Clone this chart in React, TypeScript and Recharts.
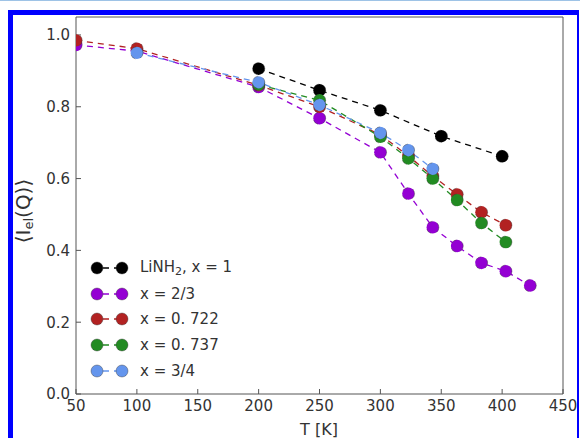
import { LineChart, Line, XAxis, YAxis } from "recharts";

// temperatures (K) and <I_el(Q)> per sample
const tBlack = [200, 250, 300, 350, 400];
const vBlack = [0.906, 0.846, 0.79, 0.718, 0.662];

const tPurple = [50, 100, 200, 250, 300, 323, 343, 363, 383, 403, 423];
const vPurple = [0.972, 0.955, 0.855, 0.768, 0.673, 0.558, 0.464, 0.412, 0.365, 0.342, 0.302];

const tRed = [50, 100, 200, 250, 300, 323, 343, 363, 383, 403];
const vRed = [0.985, 0.962, 0.86, 0.8, 0.722, 0.663, 0.607, 0.556, 0.506, 0.47];

const tGreen = [200, 250, 300, 323, 343, 363, 383, 403];
const vGreen = [0.862, 0.818, 0.716, 0.656, 0.6, 0.54, 0.476, 0.423];

const tBlue = [100, 200, 250, 300, 323, 343];
const vBlue = [0.95, 0.868, 0.805, 0.727, 0.679, 0.627];

const xTicks = [50, 100, 150, 200, 250, 300, 350, 400, 450];
const yTicks = [0, 0.2, 0.4, 0.6, 0.8, 1.0];

const zip = (t: number[], v: number[]) => t.map((x, i) => ({ t: x, v: v[i] }));

const series = [
  { key: "x1", color: "#000000", data: zip(tBlack, vBlack) },
  { key: "x23", color: "#9400d3", data: zip(tPurple, vPurple) },
  { key: "x722", color: "#b22222", data: zip(tRed, vRed) },
  { key: "x737", color: "#228b22", data: zip(tGreen, vGreen) },
  { key: "x34", color: "#6495ed", data: zip(tBlue, vBlue) },
];

const legendLabels: Record<string, React.ReactNode> = {
  x1: (
    <>
      LiNH<sub style={{ fontSize: 11, verticalAlign: "-3px" }}>2</sub>, x = 1
    </>
  ),
  x23: "x = 2/3",
  x722: "x = 0. 722",
  x737: "x = 0. 737",
  x34: "x = 3/4",
};

const FONT = "'DejaVu Sans', sans-serif";
const AXIS = "#555";
const TEXT = "#333";

function YLabel() {
  const cx = 23;
  const cy = 211;
  return (
    <text
      x={cx}
      y={cy}
      transform={`rotate(-90, ${cx}, ${cy})`}
      textAnchor="middle"
      dominantBaseline="central"
      fontSize={20}
      fill={TEXT}
      fontFamily={FONT}
    >
      ⟨I
      <tspan dy={5} fontSize={13}>
        el
      </tspan>
      <tspan dy={-5}>(Q)⟩</tspan>
    </text>
  );
}

function XLabel() {
  return (
    <text x={319} y={429} textAnchor="middle" dominantBaseline="central" fontSize={16} fill={TEXT} fontFamily={FONT}>
      T [K]
    </text>
  );
}

export default function App() {
  const tickStyle = { fontSize: 15, fill: TEXT, fontFamily: FONT };
  return (
    <div style={{ position: "absolute", left: 0, top: 0, width: 580, height: 438, background: "#fff" }}>
      <div style={{ position: "absolute", left: 0, top: 0, width: 580, height: 1, background: "#9ec3e6" }} />
      <div
        style={{
          position: "absolute",
          left: 8,
          top: 10,
          width: 571,
          height: 440,
          boxSizing: "border-box",
          borderTop: "5px solid #0000ff",
          borderLeft: "5px solid #0000ff",
          borderRight: "2px solid #0000ff",
        }}
      />
      <div style={{ position: "absolute", left: 0, top: 0 }}>
        <LineChart width={580} height={438} margin={{ top: 16, right: 16, bottom: 14, left: 16 }}>
          <XAxis
            dataKey="t"
            type="number"
            domain={[50, 450]}
            ticks={xTicks}
            allowDataOverflow
            height={30}
            stroke={AXIS}
            tick={tickStyle}
            tickSize={-5}
            tickMargin={11}
            label={<XLabel />}
          />
          <XAxis
            xAxisId="top"
            orientation="top"
            type="number"
            domain={[50, 450]}
            ticks={xTicks}
            height={1}
            stroke={AXIS}
            tickSize={-5}
            tickFormatter={() => ""}
          />
          <YAxis
            dataKey="v"
            type="number"
            domain={[0, 1.05]}
            ticks={yTicks}
            allowDataOverflow
            width={60}
            stroke={AXIS}
            tick={tickStyle}
            tickSize={-5}
            tickMargin={11}
            tickFormatter={(v: number) => v.toFixed(1)}
            label={<YLabel />}
          />
          <YAxis
            yAxisId="right"
            orientation="right"
            type="number"
            domain={[0, 1.05]}
            ticks={yTicks}
            width={1}
            stroke={AXIS}
            tickSize={-5}
            tickFormatter={() => ""}
          />
          {series.map((s) => (
            <Line
              key={s.key}
              data={s.data}
              dataKey="v"
              stroke={s.color}
              strokeWidth={1.3}
              strokeDasharray="6 5"
              dot={{ r: 6.2, fill: s.color, stroke: "#333", strokeWidth: 0.4, fillOpacity: 1 }}
              activeDot={false}
              isAnimationActive={false}
            />
          ))}
        </LineChart>
      </div>
      <div style={{ position: "absolute", left: 88, top: 255, fontFamily: FONT, fontSize: 15, color: TEXT }}>
        {series.map((s) => (
          <div key={s.key} style={{ display: "flex", alignItems: "center", height: 25.8 }}>
            <svg width={46} height={16} style={{ flex: "none" }}>
              <line x1={9} y1={8} x2={34} y2={8} stroke={s.color} strokeWidth={1.3} strokeDasharray="6 5" strokeDashoffset={-6} />
              <circle cx={9} cy={8} r={6} fill={s.color} stroke="#333" strokeWidth={0.4} />
              <circle cx={34} cy={8} r={6} fill={s.color} stroke="#333" strokeWidth={0.4} />
            </svg>
            <span style={{ marginLeft: 6, whiteSpace: "nowrap" }}>{legendLabels[s.key]}</span>
          </div>
        ))}
      </div>
    </div>
  );
}
